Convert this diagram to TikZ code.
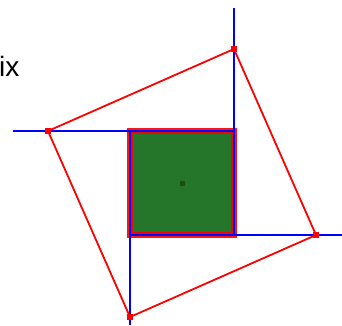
\documentclass[tikz,border=0pt]{standalone}
\usepackage{fontspec}
\setsansfont{Liberation Sans}
\usetikzlibrary{positioning}
\definecolor{SqGreen}{HTML}{25752A}
\definecolor{SqDot}{HTML}{244A0C}
\tikzset{dot/.style={rectangle,fill=red,inner sep=0pt,minimum size=6pt},
 axisline/.style={draw=blue,line width=2.4pt},
 redline/.style={draw=red,line width=1.8pt}}

\begin{document}
\begin{tikzpicture}[x=1pt,y=-1pt]
\useasboundingbox (0,0) rectangle (342,325);
\node[anchor=base west,inner sep=0pt,font=\sffamily\fontsize{28}{28}\selectfont] (lab) at (-1,76) {ix};
\foreach \n/\x/\y in {c1/130/131,c2/234/131,c3/234/235,c4/130/235}
 {\coordinate (\n) at (\x,\y);}
\foreach \n/\x/\y in {e1/13/131,e2/234/8,e3/342/235,e4/130/325}
 {\coordinate (\n) at (\x,\y);}
\fill[SqGreen] (c1) rectangle (c3);
\draw[red,opacity=.92,line width=6.5pt] (c1) rectangle (c3);
\node[rectangle,fill=SqDot,inner sep=0pt,minimum size=5pt] (mid) at (182,183) {};
\draw[axisline] (e1)--(c2) (e2)--(c3) (e3)--(c4) (e4)--(c1);
\foreach \n/\x/\y in {p1/234/49,p2/316/235,p3/130/317,p4/48/131}
 {\node[dot] (\n) at (\x,\y) {};}
\draw[redline] (p1.center)--(p2.center)--(p3.center)--(p4.center)--cycle;
\end{tikzpicture}
\end{document}
